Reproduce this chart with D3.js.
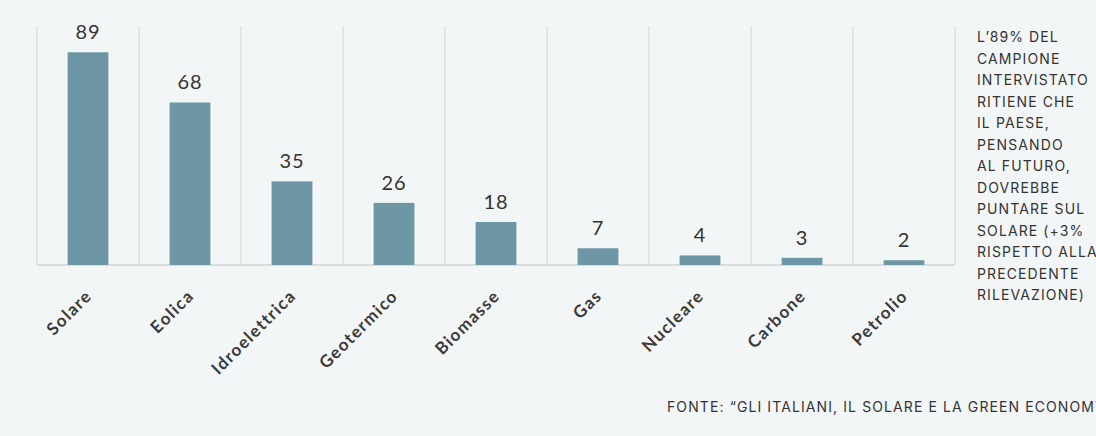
<!DOCTYPE html>
<html>
<head>
<meta charset="utf-8">
<script src="https://cdn.jsdelivr.net/npm/d3@7"></script>
<style>
  body { margin: 0; background: #f3f6f6; overflow: hidden; }
  svg { display: block; }
</style>
</head>
<body>
<svg id="chart"></svg>
<script>
const categories = ['Solare', 'Eolica', 'Idroelettrica', 'Geotermico', 'Biomasse', 'Gas', 'Nucleare', 'Carbone', 'Petrolio'];
const values = [89, 68, 35, 26, 18, 7, 4, 3, 2];
const yDomain = [0, 100];
const noteLines = ['L\u201989% DEL', 'CAMPIONE', 'INTERVISTATO', 'RITIENE CHE', 'IL PAESE,', 'PENSANDO', 'AL FUTURO,', 'DOVREBBE', 'PUNTARE SUL', 'SOLARE (+3%', 'RISPETTO ALLA', 'PRECEDENTE', 'RILEVAZIONE)'];
const source = 'FONTE: \u201CGLI ITALIANI, IL SOLARE E LA GREEN ECONOMY\u201D';

const width = 1096, height = 436;
const margin = {top: 26, right: 141, bottom: 171, left: 37};
const inner_width = width - margin.left - margin.right;
const inner_height = height - margin.top - margin.bottom;

const svg = d3.select('#chart')
    .attr('width', width)
    .attr('height', height);

svg.append('rect')
    .attr('width', width)
    .attr('height', height)
    .attr('fill', '#f3f6f6');

const chart = svg.append('g')
    .attr('transform', `translate(${margin.left}, ${margin.top})`);

const xscale = d3.scaleBand()
    .domain(categories)
    .range([0, inner_width])
    .padding(0);

const yscale = d3.scaleLinear()
    .domain(yDomain)
    .range([inner_height, 0]);

// vertical separators
const seps = categories.map(c => xscale(c)).concat([inner_width]);
chart.selectAll('.sep')
    .data(seps)
    .join('line')
    .attr('class', 'sep')
    .attr('x1', d => d).attr('x2', d => d)
    .attr('y1', 0).attr('y2', inner_height)
    .attr('stroke', '#d9dddd')
    .attr('stroke-width', 1.2);

// baseline
chart.append('line')
    .attr('x1', 0).attr('x2', inner_width)
    .attr('y1', inner_height).attr('y2', inner_height)
    .attr('stroke', '#cfd3d3')
    .attr('stroke-width', 1.5);

const barw = xscale.bandwidth() * 0.4;

chart.selectAll('.bar')
    .data(values)
    .join('rect')
    .attr('class', 'bar')
    .attr('x', (d, i) => xscale(categories[i]) + xscale.bandwidth() / 2 - barw / 2)
    .attr('y', d => yscale(d))
    .attr('width', barw)
    .attr('height', d => inner_height - yscale(d))
    .attr('fill', '#6e97a5');

chart.selectAll('.val')
    .data(values)
    .join('text')
    .attr('class', 'val')
    .attr('x', (d, i) => xscale(categories[i]) + xscale.bandwidth() / 2)
    .attr('y', d => yscale(d) - 13)
    .attr('text-anchor', 'middle')
    .attr('font-family', 'Lato, sans-serif')
    .attr('font-size', '20px')
    .attr('letter-spacing', '1px')
    .attr('fill', '#333')
    .text(d => d);

// rotated category labels
chart.selectAll('.cat')
    .data(categories)
    .join('text')
    .attr('class', 'cat')
    .attr('transform', d => `translate(${xscale(d) + xscale.bandwidth() / 2 + 5}, ${inner_height + 32}) rotate(-45)`)
    .attr('text-anchor', 'end')
    .attr('font-family', 'Lato, sans-serif')
    .attr('font-weight', 'bold')
    .attr('font-size', '17px')
    .attr('letter-spacing', '1.4px')
    .attr('fill', '#3a3a3a')
    .text(d => d);

// side note
svg.append('text')
    .attr('x', 977)
    .attr('y', 42)
    .attr('font-family', 'Inter, sans-serif')
    .attr('font-size', '14px')
    .attr('letter-spacing', '1.1px')
    .attr('fill', '#333')
    .selectAll('tspan')
    .data(noteLines)
    .join('tspan')
    .attr('x', 977)
    .attr('dy', (d, i) => i === 0 ? 0 : 21.5)
    .text(d => d);

svg.append('text')
    .attr('x', 667)
    .attr('y', 412)
    .attr('font-family', 'Inter, sans-serif')
    .attr('font-size', '14px')
    .attr('letter-spacing', '1.1px')
    .attr('fill', '#333')
    .text(source);
</script>
</body>
</html>
